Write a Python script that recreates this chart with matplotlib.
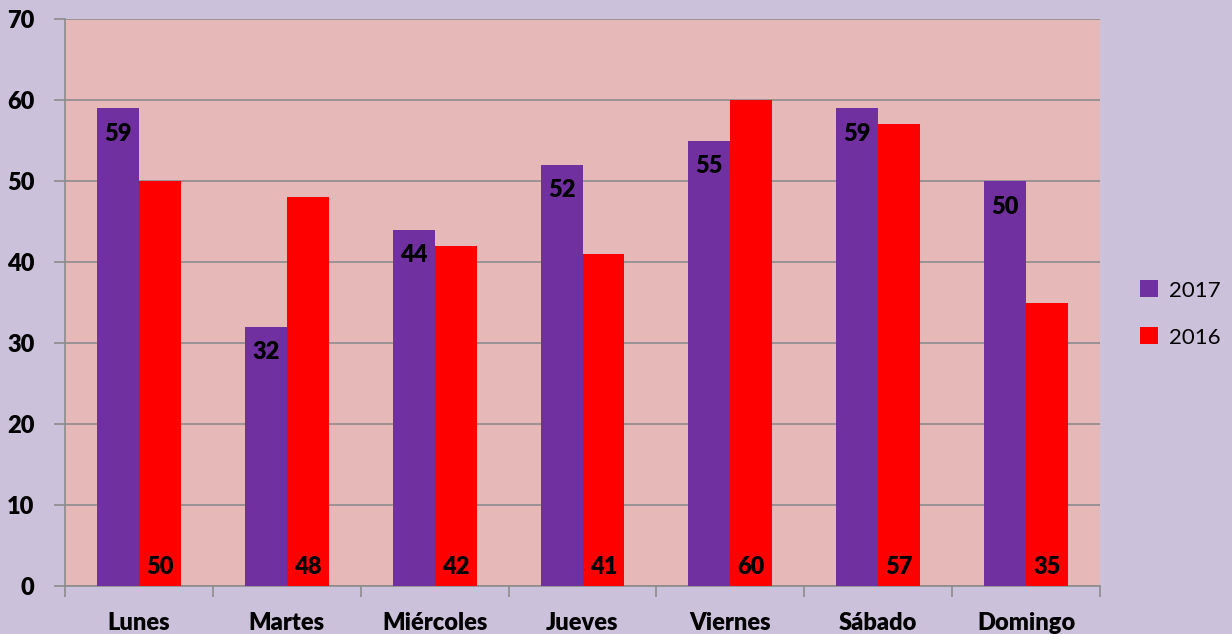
import matplotlib.pyplot as plt
import numpy as np

dias = ["Lunes", "Martes", "Miércoles", "Jueves", "Viernes", "Sábado", "Domingo"]
v2017 = [59, 32, 44, 52, 55, 59, 50]
v2016 = [50, 48, 42, 41, 60, 57, 35]

plt.rcParams['font.family'] = ['Lato', 'DejaVu Sans']
plt.rcParams['font.weight'] = 'bold'

fig = plt.figure(figsize=(12.32, 6.34), dpi=100, facecolor="#CCC1DA")
ax = fig.add_axes([65 / 1232, 48 / 634, 1035 / 1232, 567 / 634])
ax.set_facecolor("#E6B9B8")

x = np.arange(len(dias))
w = 0.284
b1 = ax.bar(x - w / 2, v2017, w, color="#7030A0", label="2017", zorder=3)
b2 = ax.bar(x + w / 2, v2016, w, color="#FF0000", label="2016", zorder=3)

# etiquetas: 2017 dentro del extremo, 2016 dentro de la base
for rect, v in zip(b1, v2017):
    ax.text(rect.get_x() + rect.get_width() / 2, v - 1.8, str(v), ha="center", va="top",
            fontsize=17, fontweight="heavy", zorder=4)
for rect, v in zip(b2, v2016):
    ax.text(rect.get_x() + rect.get_width() / 2, 1.0, str(v), ha="center", va="bottom",
            fontsize=17, fontweight="heavy", zorder=4)

ax.set_xlim(-0.5, len(dias) - 0.5)
ax.set_ylim(0, 70)
ax.set_yticks(range(0, 71, 10))
ax.yaxis.grid(True, color="#8C8C8C", linewidth=1.2, zorder=1)
ax.set_xticks(x)
ax.set_xticklabels(dias, fontsize=17, fontweight="heavy")
ax.set_xticks(np.arange(-0.5, len(dias)), minor=True)
ax.tick_params(axis="x", which="major", length=0, pad=19)
ax.tick_params(axis="x", which="minor", length=8, color="#8C8C8C", width=1.2)
ax.tick_params(axis="y", length=8, color="#8C8C8C", width=1.2, labelsize=17, pad=14)
for lab in ax.get_yticklabels():
    lab.set_fontweight("heavy")

for s in ["top", "right"]:
    ax.spines[s].set_visible(False)
for s in ["left", "bottom"]:
    ax.spines[s].set_color("#8C8C8C")
    ax.spines[s].set_linewidth(1.2)

fig.legend(loc="center left", bbox_to_anchor=(1120 / 1232, 320 / 634), frameon=False,
           handlelength=0.8, handleheight=0.8, labelspacing=1.2,
           handletextpad=0.5, prop={'weight': 'normal', 'size': 16})

fig.savefig("out.png", dpi=100, facecolor=fig.get_facecolor())
